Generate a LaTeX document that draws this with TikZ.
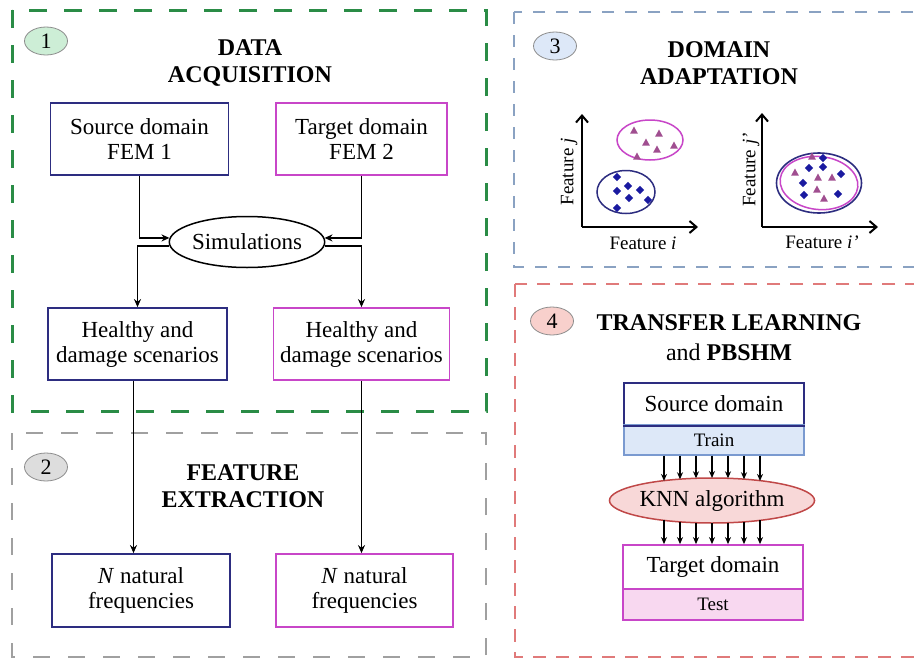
\documentclass[tikz,border=0pt]{standalone}
\usepackage{fontspec}
\setmainfont{Liberation Serif}
\usetikzlibrary{arrows.meta,calc,shapes.geometric}
\definecolor{gdash}{HTML}{2A8C46}
\definecolor{graydash}{HTML}{A0A0A0}
\definecolor{bdash}{HTML}{8AA2C2}
\definecolor{rdash}{HTML}{E07A7A}
\definecolor{navy}{HTML}{2D2D80}
\definecolor{mag}{HTML}{C846C8}
\definecolor{trifill}{HTML}{A04E90}
\definecolor{dfill}{HTML}{1A1AA0}
\definecolor{bone}{HTML}{CDEED6}
\definecolor{btwo}{HTML}{DDDDDD}
\definecolor{bthree}{HTML}{DDE8F8}
\definecolor{bfour}{HTML}{F8D0CC}
\definecolor{trainfill}{HTML}{DDE8F8}
\definecolor{trainline}{HTML}{7A9AD0}
\definecolor{knnfill}{HTML}{F8D8D8}
\definecolor{knnline}{HTML}{C04848}
\definecolor{testfill}{HTML}{F8D8F0}
\newcommand\myfA{\fontsize{23}{25}\selectfont}
\newcommand\myfT{\fontsize{24}{27}\selectfont\bfseries}
\newcommand\myfS{\fontsize{19}{21}\selectfont}
\newcommand\mytri[1]{\fill[trifill] #1 ++(0,-4.5) -- ++(3.8,7) -- ++(-7.6,0) -- cycle;}
\newcommand\mydia[1]{\fill[dfill] #1 ++(0,-4.2) -- ++(4.2,4.2) -- ++(-4.2,4.2) -- ++(-4.2,-4.2) -- cycle;}
\begin{document}
\begin{tikzpicture}[x=1pt,y=-1pt,
  panelg/.style={draw=gdash,line width=3pt,dash pattern=on 18pt off 17pt},
  panelgr/.style={draw=graydash,line width=2.5pt,dash pattern=on 17pt off 18pt},
  panelb/.style={draw=bdash,line width=2.2pt,dash pattern=on 12pt off 11pt},
  panelr/.style={draw=rdash,line width=2.2pt,dash pattern=on 13pt off 10pt},
  badge/.style={ellipse,draw=black!45,line width=0.8pt,minimum width=43pt,minimum height=28pt,inner sep=0pt,font=\fontsize{22}{24}\selectfont},
  title/.style={align=center,inner sep=0pt,font=\myfT},
  sbox/.style={draw=navy,line width=1.8pt,fill=white,align=center,inner sep=0pt,font=\myfA},
  tbox/.style={draw=mag,line width=1.8pt,fill=white,align=center,inner sep=0pt,font=\myfA},
  arr/.style={-{Stealth[length=8pt,width=7pt]},line width=1.5pt},
  sarr/.style={-{Stealth[length=7pt,width=6pt]},line width=1.3pt},
  axis/.style={-{Straight Barb[length=7pt,width=12pt,line width=2pt]},line width=2pt},
  flab/.style={inner sep=0pt,font=\myfS}
]
\clip (0,0) rectangle (914,659);
\fill[white] (0,0) rectangle (914,659);

% panels
\draw[panelg] (12,10) rectangle (486,411);
\draw[panelgr] (12,433) rectangle (486,657);
\draw[panelb] (514,12) rectangle (930,267);
\draw[panelr] (515,284) rectangle (930,657);

% badges
\node[badge,fill=bone] (b1) at (46,41) {1};
\node[badge,fill=btwo] (b2) at (46,467) {2};
\node[badge,fill=bthree] (b3) at (555,46) {3};
\node[badge,fill=bfour] (b4) at (552,321) {4};

% titles
\node[title] (t1) at (250,63) {DATA\\ACQUISITION};
\node[title] (t2) at (243,486) {FEATURE\\EXTRACTION};
\node[title] (t3) at (719,63) {DOMAIN\\ADAPTATION};
\node[title,font=\fontsize{24}{30}\selectfont] (t4) at (729,338) {\textbf{TRANSFER LEARNING}\\and \textbf{PBSHM}};

% panel 1 and 2 boxes
\node[sbox,minimum width=178pt,minimum height=72pt] (src) at (139.5,139) {Source domain\\FEM 1};
\node[tbox,minimum width=171pt,minimum height=72pt] (tgt) at (361.5,139) {Target domain\\FEM 2};
\node[ellipse,draw=black,line width=1.5pt,minimum width=151pt,minimum height=51pt,inner sep=0pt,font=\myfA] (sim) at (247,242) {Simulations};
\node[sbox,minimum width=179pt,minimum height=72pt] (hl) at (137.5,344) {Healthy and\\damage scenarios};
\node[tbox,minimum width=176pt,minimum height=72pt] (hr) at (361.5,344) {Healthy and\\damage scenarios};
\node[sbox,minimum width=178pt,minimum height=73pt] (nl) at (141,590.5) {\textit{N} natural\\frequencies};
\node[tbox,minimum width=177pt,minimum height=73pt] (nr) at (364.5,590.5) {\textit{N} natural\\frequencies};

\draw[arr] (src.south) |- (sim.177);
\draw[arr] (sim.183) -| (hl.north);
\draw[arr] (tgt.south) |- (sim.3);
\draw[arr] (sim.357) -| (hr.north);
\coordinate (hls) at ([xshift=-4pt]hl.south);
\draw[arr] (hls) -- (hls |- nl.north);
\draw[arr] (hr.south) -- (hr.south |- nr.north);

% panel 3 scatter 1
\coordinate (o1) at (582,227);
\coordinate (y1) at (582,114);
\coordinate (x1) at (698,227);
\draw[axis] (o1) -- (y1);
\draw[axis] (o1) -- (x1);
\node[flab] (fi) at (643,243) {Feature \textit{i}};
\node[flab,rotate=90] (fj) at (569,172) {Feature \textit{j}};
\draw[navy,line width=1.5pt] (626,192) ellipse [x radius=29, y radius=21.5];
\draw[mag,line width=1.5pt] (650,140) ellipse [x radius=33, y radius=20];
\mydia{(617,177)}\mydia{(628,186)}\mydia{(617,191)}\mydia{(640,190)}
\mydia{(629,198)}\mydia{(648,200)}\mydia{(617,208)}
\mytri{(634,131)}\mytri{(659,134)}\mytri{(646,143)}\mytri{(674,146)}
\mytri{(657,150)}\mytri{(637,157)}

% panel 3 scatter 2
\coordinate (o2) at (762,227);
\coordinate (y2) at (762,113);
\coordinate (x2) at (878,227);
\draw[axis] (o2) -- (y2);
\draw[axis] (o2) -- (x2);
\node[flab] (fi2) at (822,242) {Feature \textit{i'}};
\node[flab,rotate=90] (fj2) at (751,170) {Feature \textit{j'}};
\draw[navy,line width=1.6pt] (819,183) ellipse [x radius=42.5, y radius=30];
\draw[mag,line width=1.5pt,rotate around={-6:(819,183)}] (819,183) ellipse [x radius=39, y radius=26.5];
\mydia{(823,158)}\mydia{(809,168)}\mydia{(823,167)}\mydia{(841,174)}
\mydia{(803,183)}\mydia{(804,195)}\mydia{(838,194)}
\mytri{(812,157)}\mytri{(795,173)}\mytri{(818,178)}\mytri{(832,178)}
\mytri{(817,190)}\mytri{(824,199)}

% panel 4
\node[sbox,minimum width=180pt,minimum height=42pt] (srcd) at (714,404) {Source domain};
\node[draw=trainline,fill=trainfill,line width=1.2pt,minimum width=180pt,minimum height=30pt,inner sep=0pt,font=\myfS] (train) at (714,440) {Train};
\draw[navy,line width=1.8pt] (srcd.south west) -- (srcd.south east);
\node[ellipse,draw=knnline,fill=knnfill,line width=1.5pt,minimum width=194pt,minimum height=45pt,inner sep=0pt,font=\myfA] (knn) at (712,500.5) {KNN algorithm};
\node[draw=mag,fill=testfill,line width=1.5pt,minimum width=180pt,minimum height=31pt,inner sep=0pt,font=\myfS] (test) at (713,604.5) {Test};
\node[tbox,minimum width=180pt,minimum height=44pt] (tgtd) at (713,567) {Target domain};
\foreach \dx in {-48,-32,-16,0,16,32,48}{
  \coordinate (kb) at ($(knn.center)+(\dx,0)$);
  \draw[sarr] (kb |- train.south) -- ($(knn.center)+(\dx,{-22.5*sqrt(1-(\dx/97)^2)})$);
  \draw[sarr] ($(knn.center)+(\dx,{22.5*sqrt(1-(\dx/97)^2)})$) -- (kb |- tgtd.north);
}
\end{tikzpicture}
\end{document}
